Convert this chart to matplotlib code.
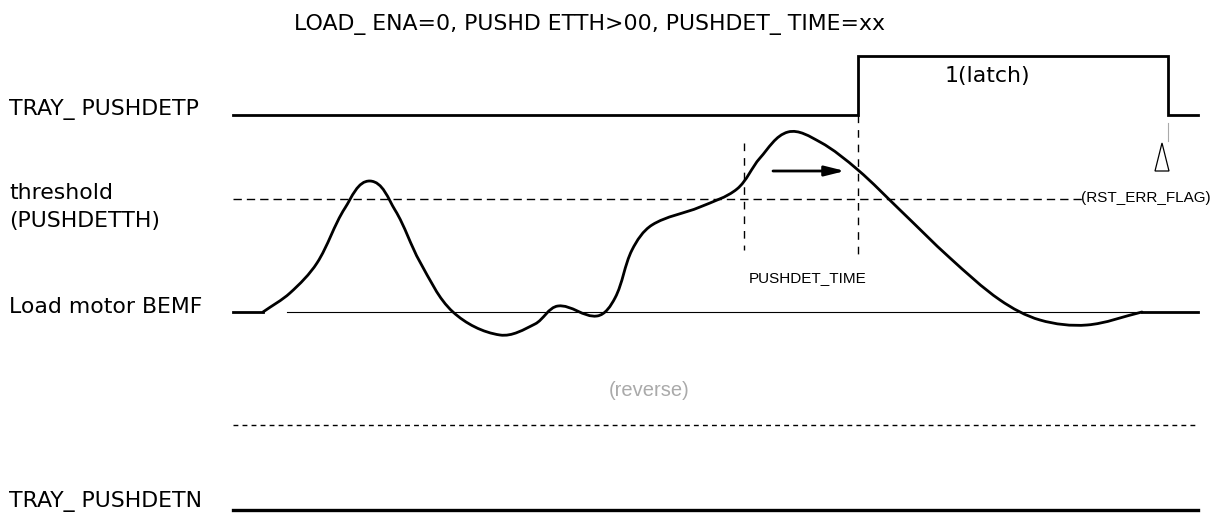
import numpy as np
import matplotlib
matplotlib.use("Agg")
import matplotlib.pyplot as plt
from matplotlib.path import Path
from matplotlib.patches import PathPatch, Polygon

# Canvas is laid out in pixel units of the 1225x513 reference (y grows downwards)
W, H = 1225, 513

TITLE = "LOAD_ ENA=0, PUSHD ETTH>00, PUSHDET_ TIME=xx"
SIGNAL_LABELS = ["TRAY_ PUSHDETP", "threshold\n(PUSHDETTH)", "Load motor BEMF", "TRAY_ PUSHDETN"]
SIGNAL_Y = [115, 199, 312, 510]

X_START, X_END = 233, 1198
PULSE_X = [858, 1168]          # rise / fall of the latch pulse
PULSE_TOP = 56
TIME_MARKS = [744, 858]        # PUSHDET_TIME window
THRESH_END = 1083
REVERSE_Y = 425

# Load motor BEMF curve anchors
BEMF_X = [263, 290, 317, 345, 370, 395, 420, 453, 500, 535, 558, 597, 615,
          632, 652, 700, 737, 760, 788, 820, 858, 900, 950, 1000, 1040, 1087, 1142]
BEMF_Y = [312, 293, 263, 208, 181, 210, 262, 312, 335, 324, 306, 316, 298,
          250, 225, 207, 189, 158, 132, 142, 170, 210, 258, 300, 320, 325, 312]

SANS = ["DejaVu Sans"]
ARIAL = ["Liberation Sans", "DejaVu Sans"]


def smooth_path(xs, ys):
    # bezier through the anchors, handles follow neighbour direction
    pts = np.column_stack([xs, ys]).astype(float)
    verts = [pts[0]]
    codes = [Path.MOVETO]
    n = len(pts)
    for i in range(n - 1):
        p0 = pts[i - 1] if i > 0 else pts[i] - (pts[i + 1] - pts[i])
        p1, p2 = pts[i], pts[i + 1]
        p3 = pts[i + 2] if i + 2 < n else p2 + (p2 - p1)
        seg = np.hypot(*(p2 - p1)) / 3.0
        d1 = (p2 - p0) / np.hypot(*(p2 - p0))
        d2 = (p3 - p1) / np.hypot(*(p3 - p1))
        verts += [p1 + d1 * seg, p2 - d2 * seg, p2]
        codes += [Path.CURVE4] * 3
    return Path(verts, codes)


fig = plt.figure(figsize=(W / 100, H / 100), dpi=100)
ax = fig.add_axes([0, 0, 1, 1])
ax.set_xlim(0, W)
ax.set_ylim(H, 0)
ax.axis("off")

lw_thick = 2.0
k = "black"
fs = 15.8

# title
ax.text(589, 30, TITLE, family=SANS, fontsize=fs, ha="center", va="baseline")

# labels on the left
label_base = [115, 199, 313, 507]
for label, y in zip(SIGNAL_LABELS, label_base):
    lines = label.split("\n")
    for j, part in enumerate(lines):
        ax.text(9, y + 28 * j, part, family=SANS, fontsize=fs, va="baseline")

# TRAY_PUSHDETP with latch pulse
ax.plot([X_START, PULSE_X[0], PULSE_X[0], PULSE_X[1], PULSE_X[1], X_END],
        [SIGNAL_Y[0], SIGNAL_Y[0], PULSE_TOP, PULSE_TOP, SIGNAL_Y[0], SIGNAL_Y[0]],
        color=k, lw=lw_thick, solid_joinstyle="miter")
ax.text(987, 82, "1(latch)", family=SANS, fontsize=fs, ha="center", va="baseline")

# reset marker
ax.plot([PULSE_X[1], PULSE_X[1]], [123, 141], color="#aaaaaa", lw=0.8)
ax.add_patch(Polygon([[1162, 143], [1155, 171], [1169, 171]], closed=True,
                     fill=False, edgecolor=k, lw=0.9))
ax.text(1146, 198, "(RST_ERR_FLAG)", family=ARIAL, fontsize=11,
        ha="center", va="center")

# threshold
ax.plot([X_START, THRESH_END], [SIGNAL_Y[1], SIGNAL_Y[1]], color=k, lw=1.0,
        linestyle=(0, (6, 3.6)))

# PUSHDET_TIME window
ax.plot([TIME_MARKS[0]] * 2, [143, 250], color=k, lw=1.0, linestyle=(0, (5.5, 5)))
ax.plot([TIME_MARKS[1]] * 2, [SIGNAL_Y[0], 256], color=k, lw=1.0, linestyle=(0, (5.5, 5)))
ax.annotate("", xy=(845, 171), xytext=(773, 171),
            arrowprops=dict(arrowstyle="-|>,head_length=1.2,head_width=0.3",
                            color=k, lw=2.0, shrinkA=0, shrinkB=0))
ax.text(808, 278, "PUSHDET_TIME", family=ARIAL, fontsize=11,
        ha="center", va="center")

# Load motor BEMF
ax.plot([287, X_END], [SIGNAL_Y[2], SIGNAL_Y[2]], color=k, lw=0.8)
ax.plot([X_START, BEMF_X[0]], [SIGNAL_Y[2], SIGNAL_Y[2]], color=k, lw=lw_thick)
ax.plot([BEMF_X[-1], X_END], [SIGNAL_Y[2], SIGNAL_Y[2]], color=k, lw=lw_thick)
ax.add_patch(PathPatch(smooth_path(BEMF_X, BEMF_Y), fill=False, edgecolor=k,
                       lw=lw_thick, capstyle="round", joinstyle="round"))

# reverse side
ax.text(649, 390, "(reverse)", family=ARIAL, fontsize=14.5, color="#aaaaaa",
        ha="center", va="center")
ax.plot([X_START, X_END], [REVERSE_Y, REVERSE_Y], color=k, lw=1.0,
        linestyle=(0, (3.5, 3)))

# TRAY_PUSHDETN
ax.plot([X_START, X_END], [SIGNAL_Y[3], SIGNAL_Y[3]], color=k, lw=2.4)

fig.savefig("out.png", dpi=100)
